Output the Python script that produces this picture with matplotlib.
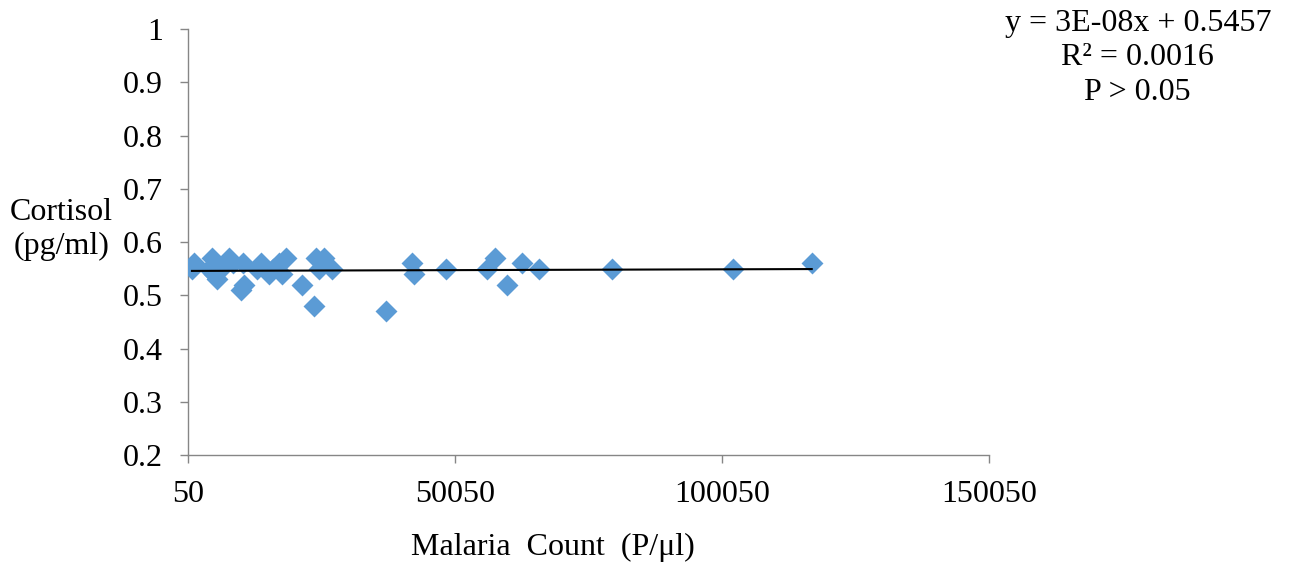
import matplotlib
matplotlib.use("Agg")
import matplotlib.pyplot as plt
import numpy as np

malaria_count = [1170, 800, 4540, 4000, 5000, 5480, 6200, 7730, 8500, 9980, 10540, 10300,
                 13000, 13720, 15220, 16000, 17090, 17660, 18400, 21400, 23650, 24020,
                 24590, 25520, 27020, 37130, 42000, 42370, 48360, 56040, 57540, 59790,
                 62600, 65780, 79450, 102120, 116850]
cortisol = [0.56, 0.55, 0.57, 0.55, 0.54, 0.53, 0.55, 0.57, 0.56, 0.51, 0.52, 0.56,
            0.55, 0.56, 0.54, 0.55, 0.56, 0.54, 0.57, 0.52, 0.48, 0.57,
            0.55, 0.57, 0.55, 0.47, 0.56, 0.54, 0.55, 0.55, 0.57, 0.52,
            0.56, 0.55, 0.55, 0.55, 0.56]
slope = 3e-08
intercept = 0.5457
x_ticks = [50, 50050, 100050, 150050]
y_ticks = [0.2, 0.3, 0.4, 0.5, 0.6, 0.7, 0.8, 0.9, 1.0]
y_tick_labels = ["0.2", "0.3", "0.4", "0.5", "0.6", "0.7", "0.8", "0.9", "1"]

plt.rcParams['font.family'] = ['Liberation Serif', 'DejaVu Serif']
fig = plt.figure(figsize=(12.9, 5.63), dpi=100)
ax = fig.add_axes([0.1457, 0.1918, 0.621, 0.7567])

ax.scatter(malaria_count, cortisol, marker='D', s=125, color='#5B9BD5', zorder=3, linewidths=0)
xs = np.array([min(malaria_count), max(malaria_count)])
ax.plot(xs, slope * xs + intercept, color='black', lw=1.5, zorder=4)

ax.set_xlim(50, 150050)
ax.set_ylim(0.2, 1.0)
ax.set_xticks(x_ticks)
ax.set_xticklabels([str(t) for t in x_ticks])
ax.set_yticks(y_ticks)
ax.set_yticklabels(y_tick_labels)
for s in ['top', 'right']:
    ax.spines[s].set_visible(False)
for s in ['left', 'bottom']:
    ax.spines[s].set_color('#868686')
    ax.spines[s].set_linewidth(1.0)
ax.tick_params(axis='both', colors='#868686', labelcolor='black', labelsize=23,
               length=6, width=1.0, direction='out')
ax.tick_params(axis='x', pad=12)
ax.tick_params(axis='y', pad=12)

fig.text(0.0475, 0.592, "Cortisol\n(pg/ml)", fontsize=23, ha='center', va='center', linespacing=1.22)
fig.text(0.4287, 0.0284, "Malaria  Count  (P/μl)", fontsize=23, ha='center', va='center')
fig.text(0.882, 0.984, "y = 3E-08x + 0.5457\nR² = 0.0016\nP > 0.05", fontsize=23,
         ha='center', va='top', linespacing=1.24)

fig.savefig("out.png", dpi=100)
